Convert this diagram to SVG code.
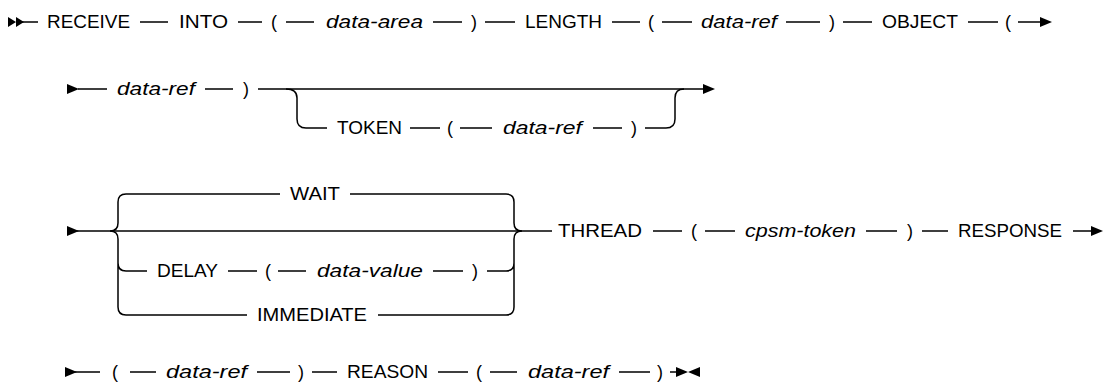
<svg xmlns="http://www.w3.org/2000/svg" width="1106" height="390" viewBox="0 0 1106 390">
<style>
.t{font-family:"Liberation Sans",Arial,sans-serif;font-size:18px;fill:#000}
.k{text-anchor:start}
.v{font-style:italic}
.p{text-anchor:middle}
.ln{stroke:#000;stroke-width:1.5;fill:none}
.ah{fill:#000}
</style>
<rect width="1106" height="390" fill="#fff"/>
<g id="connectors" class="ln">
<path d="M16,22H38 M140,22H168 M238,22H262 M286,22H314 M433,22H462 M485,22H515 M612,22H640 M662,22H692 M786,22H820 M843,22H872 M968,22H998 M1018,22H1042"/>
<path d="M78,89H107 M205,89H233 M258,89H705"/>
<path d="M286,89Q297,89 297,98V119Q297,128 306,128H327 M410,128H440 M460,128H492 M593,128H622 M645,128H666Q675,128 675,119V98Q675,89 684,89"/>
<path d="M77,231H552"/>
<path d="M126,194Q118,194 118,202V223Q118,231 110,231 M110,231Q118,231 118,239V263Q118,271 126,271H147 M118,263V307Q118,315 126,315H247"/>
<path d="M126,194H280 M350,194H506Q514,194 514,202V223Q514,231 522,231 M522,231Q514,231 514,239V263Q514,271 506,271H487 M514,263V307Q514,315 506,315H378"/>
<path d="M228,271H257 M278,271H306 M433,271H463"/>
<path d="M653,231H682 M705,231H735 M866,231H897 M922,231H948 M1073,231H1095"/>
<path d="M75,372H100 M130,372H156 M257,372H290 M312,372H337 M438,372H468 M490,372H517 M619,372H650 M670,372H680"/>
</g>
<g id="markers" class="ah">
<path d="M8,17L16,22L8,27Z M16,17L24,22L16,27Z"/>
<path d="M1040,17L1052,22L1040,27Z"/>
<path d="M67,84L79,89L67,94Z"/>
<path d="M703,84L715,89L703,94Z"/>
<path d="M67,226L79,231L67,236Z"/>
<path d="M1091,226L1103,231L1091,236Z"/>
<path d="M65,367L77,372L65,377Z"/>
<path d="M676,367L688,372L676,377Z M700,367L688,372L700,377Z"/>
</g>
<g id="n-receive"><text class="t k" x="47" y="28" textLength="83" lengthAdjust="spacingAndGlyphs">RECEIVE</text></g>
<g id="n-into"><text class="t k" x="179" y="28" textLength="49" lengthAdjust="spacingAndGlyphs">INTO</text></g>
<g id="n-lp1"><text class="t p" x="274" y="28">(</text></g>
<g id="n-data-area"><text class="t k v" x="326" y="28" textLength="97" lengthAdjust="spacingAndGlyphs">data-area</text></g>
<g id="n-rp1"><text class="t p" x="474" y="28">)</text></g>
<g id="n-length"><text class="t k" x="525" y="28" textLength="77" lengthAdjust="spacingAndGlyphs">LENGTH</text></g>
<g id="n-lp2"><text class="t p" x="651" y="28">(</text></g>
<g id="n-data-ref1"><text class="t k v" x="701" y="28" textLength="76" lengthAdjust="spacingAndGlyphs">data-ref</text></g>
<g id="n-rp2"><text class="t p" x="832" y="28">)</text></g>
<g id="n-object"><text class="t k" x="882" y="28" textLength="76" lengthAdjust="spacingAndGlyphs">OBJECT</text></g>
<g id="n-lp3"><text class="t p" x="1008" y="28">(</text></g>

<g id="n-data-ref2"><text class="t k v" x="117" y="95" textLength="78" lengthAdjust="spacingAndGlyphs">data-ref</text></g>
<g id="n-rp3"><text class="t p" x="246" y="95">)</text></g>
<g id="n-token"><text class="t k" x="337" y="134" textLength="65" lengthAdjust="spacingAndGlyphs">TOKEN</text></g>
<g id="n-lp4"><text class="t p" x="450" y="134">(</text></g>
<g id="n-data-ref3"><text class="t k v" x="503" y="134" textLength="79" lengthAdjust="spacingAndGlyphs">data-ref</text></g>
<g id="n-rp4"><text class="t p" x="634" y="134">)</text></g>

<g id="n-wait"><text class="t k" x="290" y="200" textLength="50" lengthAdjust="spacingAndGlyphs">WAIT</text></g>
<g id="n-delay"><text class="t k" x="157" y="277" textLength="61" lengthAdjust="spacingAndGlyphs">DELAY</text></g>
<g id="n-lp5"><text class="t p" x="268" y="277">(</text></g>
<g id="n-data-value"><text class="t k v" x="317" y="277" textLength="106" lengthAdjust="spacingAndGlyphs">data-value</text></g>
<g id="n-rp5"><text class="t p" x="475" y="277">)</text></g>
<g id="n-immediate"><text class="t k" x="257" y="321" textLength="110" lengthAdjust="spacingAndGlyphs">IMMEDIATE</text></g>
<g id="n-thread"><text class="t k" x="558" y="237" textLength="84" lengthAdjust="spacingAndGlyphs">THREAD</text></g>
<g id="n-lp6"><text class="t p" x="694" y="237">(</text></g>
<g id="n-cpsm-token"><text class="t k v" x="745" y="237" textLength="111" lengthAdjust="spacingAndGlyphs">cpsm-token</text></g>
<g id="n-rp6"><text class="t p" x="910" y="237">)</text></g>
<g id="n-response"><text class="t k" x="958" y="237" textLength="104" lengthAdjust="spacingAndGlyphs">RESPONSE</text></g>

<g id="n-lp7"><text class="t p" x="115" y="378">(</text></g>
<g id="n-data-ref4"><text class="t k v" x="166" y="378" textLength="81" lengthAdjust="spacingAndGlyphs">data-ref</text></g>
<g id="n-rp7"><text class="t p" x="301" y="378">)</text></g>
<g id="n-reason"><text class="t k" x="347" y="378" textLength="81" lengthAdjust="spacingAndGlyphs">REASON</text></g>
<g id="n-lp8"><text class="t p" x="479" y="378">(</text></g>
<g id="n-data-ref5"><text class="t k v" x="528" y="378" textLength="81" lengthAdjust="spacingAndGlyphs">data-ref</text></g>
<g id="n-rp8"><text class="t p" x="660" y="378">)</text></g>
</svg>
